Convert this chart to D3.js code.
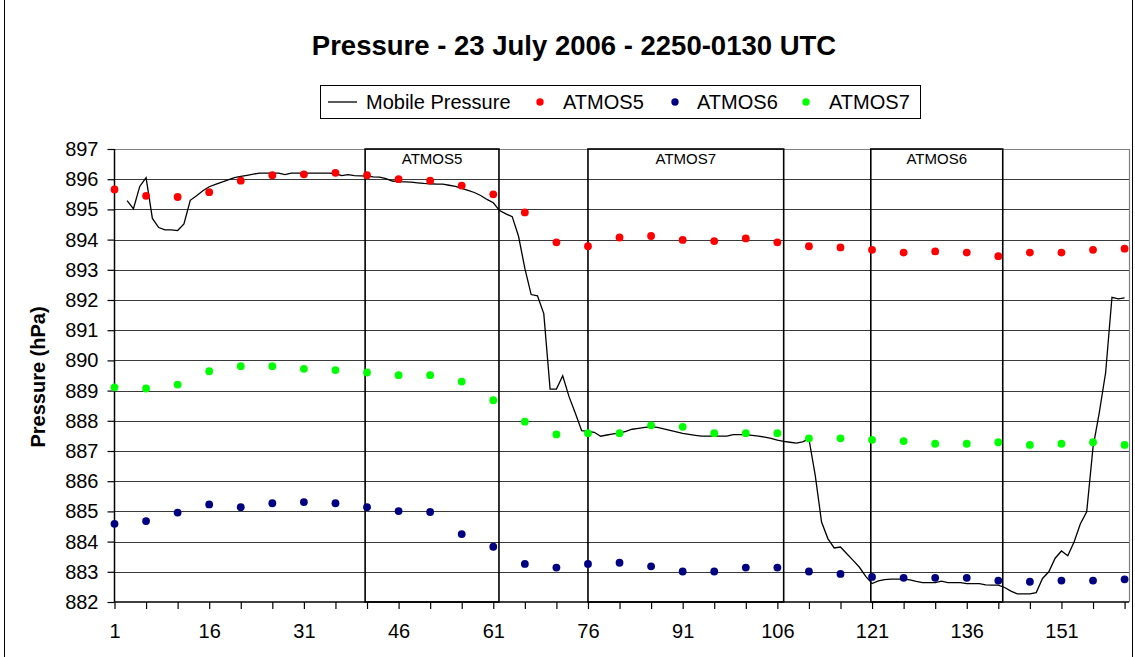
<!DOCTYPE html>
<html>
<head>
<meta charset="utf-8">
<script src="https://cdn.jsdelivr.net/npm/d3@7"></script>
<style>
  html, body { margin: 0; padding: 0; background: #fff; }
  svg { display: block; font-family: "Liberation Sans", Arial, sans-serif; }
</style>
</head>
<body>
<svg id="chart" width="1135" height="657"></svg>
<script>
// ---------- DATA ----------
const title = "Pressure - 23 July 2006 - 2250-0130 UTC";
const yTitle = "Pressure (hPa)";
const seriesNames = ["Mobile Pressure", "ATMOS5", "ATMOS6", "ATMOS7"];

// Station observations every 5 samples (sample numbers 1, 6, 11, ... 161)
const stationSamples = [1,6,11,16,21,26,31,36,41,46,51,56,61,66,71,76,81,86,91,96,101,106,111,116,121,126,131,136,141,146,151,156,161];
const atmos5 = [895.66,895.45,895.41,895.57,895.95,896.13,896.16,896.21,896.13,896.00,895.95,895.79,895.50,894.90,893.91,893.78,894.07,894.12,893.99,893.95,894.04,893.91,893.78,893.74,893.66,893.57,893.61,893.57,893.45,893.57,893.57,893.66,893.70];
const atmos6 = [884.59,884.68,884.96,885.23,885.14,885.27,885.31,885.27,885.14,885.01,884.98,884.25,883.83,883.26,883.14,883.26,883.30,883.18,883.01,883.01,883.14,883.14,883.01,882.93,882.83,882.80,882.80,882.80,882.71,882.67,882.71,882.71,882.75];
const atmos7 = [889.11,889.07,889.20,889.64,889.81,889.81,889.72,889.68,889.60,889.51,889.51,889.30,888.68,887.97,887.55,887.59,887.59,887.85,887.80,887.59,887.59,887.59,887.42,887.42,887.37,887.33,887.24,887.24,887.29,887.20,887.24,887.29,887.20];

// Mobile pressure, samples 3 .. 161
const mobileStart = 3;
const mobile = [
  895.29,895.02,895.76,896.05,894.70,894.40,894.32,894.32,894.30,894.52,
  895.30,895.45,895.62,895.75,895.83,895.90,895.98,896.05,896.09,896.13,
  896.17,896.20,896.20,896.20,896.20,896.15,896.20,896.20,896.20,896.20,
  896.20,896.20,896.20,896.18,896.12,896.15,896.12,896.11,896.10,896.08,
  896.07,896.02,895.94,895.92,895.91,895.90,895.88,895.86,895.85,895.84,
  895.84,895.80,895.76,895.70,895.63,895.56,895.46,895.33,895.22,894.96,
  894.85,894.76,894.11,893.05,892.18,892.14,891.55,889.05,889.05,889.49,
  888.80,888.25,887.67,887.65,887.62,887.49,887.53,887.57,887.59,887.65,
  887.72,887.75,887.78,887.80,887.78,887.73,887.68,887.63,887.58,887.55,
  887.52,887.49,887.49,887.49,887.49,887.49,887.54,887.54,887.54,887.52,
  887.49,887.46,887.42,887.36,887.32,887.29,887.26,887.30,887.40,886.19,
  884.65,884.10,883.79,883.82,883.60,883.38,883.15,882.85,882.61,882.70,
  882.74,882.76,882.76,882.76,882.73,882.68,882.64,882.64,882.64,882.69,
  882.64,882.64,882.64,882.61,882.61,882.61,882.57,882.56,882.56,882.48,
  882.36,882.27,882.27,882.27,882.31,882.78,883.00,883.45,883.69,883.53,
  883.99,884.59,884.99,887.12,888.28,889.60,892.09,892.04,892.07
];

// Annotation boxes (sample ranges)
const boxLabels = ["ATMOS5", "ATMOS7", "ATMOS6"];
const boxStart = [40.7, 76.0, 120.8];
const boxEnd = [61.9, 107.0, 141.7];

const yTicks = d3.range(882, 898, 1);
const xTickSamples = d3.range(1, 162, 5);
const xLabelSamples = [1, 16, 31, 46, 61, 76, 91, 106, 121, 136, 151];

const colors = { "Mobile Pressure": "#000000", ATMOS5: "#FF0000", ATMOS6: "#000080", ATMOS7: "#00FF00" };

// ---------- LAYOUT ----------
const svg = d3.select("#chart");
const W = 1135, H = 657;
const plot = { left: 114.5, right: 1129, top: 149, bottom: 602 };
const x = d3.scaleLinear().domain([1, 161.7]).range([plot.left, plot.right]);
const y = d3.scaleLinear().domain([882, 897]).range([plot.bottom, plot.top]);
const FONT = '"Liberation Sans", Arial, sans-serif';

// chart area border
svg.append("rect").attr("x", 4.5).attr("y", -10).attr("width", 1128).attr("height", H + 20)
  .attr("fill", "none").attr("stroke", "#000").attr("stroke-width", 1);

// title
svg.append("text").attr("x", 574).attr("y", 55).attr("text-anchor", "middle")
  .attr("font-size", 27.5).attr("font-weight", "bold").attr("fill", "#000").text(title);

// legend
const lg = svg.append("g");
lg.append("rect").attr("x", 320.5).attr("y", 85.5).attr("width", 600).attr("height", 33)
  .attr("fill", "#fff").attr("stroke", "#000").attr("stroke-width", 1);
const legendItems = [
  { name: seriesNames[0], kind: "line", sx: 328, tx: 366 },
  { name: seriesNames[1], kind: "dot", sx: 540, tx: 563 },
  { name: seriesNames[2], kind: "dot", sx: 675, tx: 697 },
  { name: seriesNames[3], kind: "dot", sx: 806, tx: 829 }
];
legendItems.forEach(it => {
  if (it.kind === "line") {
    lg.append("line").attr("x1", it.sx).attr("x2", it.sx + 29).attr("y1", 102).attr("y2", 102)
      .attr("stroke", "#000").attr("stroke-width", 1.3);
  } else {
    lg.append("circle").attr("cx", it.sx).attr("cy", 102).attr("r", 3.7).attr("fill", colors[it.name]);
  }
  lg.append("text").attr("x", it.tx).attr("y", 109).attr("font-size", 20).attr("fill", "#000").text(it.name);
});

// gridlines
const grid = svg.append("g");
grid.selectAll("line").data(yTicks.filter(v => v > 882)).join("line")
  .attr("x1", plot.left).attr("x2", plot.right)
  .attr("y1", d => Math.round(y(d)) + 0.5).attr("y2", d => Math.round(y(d)) + 0.5)
  .attr("stroke", d => d === 897 ? "#808080" : "#3a3a3a").attr("stroke-width", 1);
// plot right border
svg.append("line").attr("x1", plot.right + 0.5).attr("x2", plot.right + 0.5)
  .attr("y1", plot.top).attr("y2", plot.bottom).attr("stroke", "#808080").attr("stroke-width", 1.2);

// annotation boxes
const boxes = svg.append("g");
boxLabels.forEach((lab, i) => {
  const x0 = x(boxStart[i]), x1 = x(boxEnd[i]);
  boxes.append("rect").attr("x", x0).attr("y", plot.top).attr("width", x1 - x0).attr("height", plot.bottom - plot.top)
    .attr("fill", "none").attr("stroke", "#000").attr("stroke-width", 1.6);
  boxes.append("text").attr("x", (x0 + x1) / 2).attr("y", 164).attr("text-anchor", "middle")
    .attr("font-size", 15).attr("fill", "#000").text(lab);
});

// axes
const yAxis = d3.axisLeft(y).tickValues(yTicks).tickSize(7).tickPadding(9).tickFormat(d3.format("d"));
const gy = svg.append("g").attr("transform", `translate(${plot.left},0)`).call(yAxis);
const xAxis = d3.axisBottom(x).tickValues(xTickSamples).tickSize(7).tickPadding(15)
  .tickFormat(d => xLabelSamples.includes(d) ? String(d) : "");
const gx = svg.append("g").attr("transform", `translate(0,${plot.bottom})`).call(xAxis);
[gx, gy].forEach(g => {
  g.select(".domain").attr("stroke", "#000").attr("stroke-width", 1.5);
  g.selectAll(".tick line").attr("stroke", "#000").attr("stroke-width", 1.2);
  g.selectAll(".tick text").attr("font-size", 20).attr("font-family", FONT).attr("fill", "#000");
});
gx.select(".domain").attr("d", `M${plot.left},0H${plot.right}`);
gy.select(".domain").attr("d", `M0,${plot.top}V${plot.bottom}`);

// y title
svg.append("text").attr("transform", `translate(45,377) rotate(-90)`).attr("text-anchor", "middle")
  .attr("font-size", 20).attr("font-weight", "bold").attr("fill", "#000").text(yTitle);

// mobile pressure line
const mobileData = mobile.map((v, i) => ({ s: mobileStart + i, v }));
svg.append("path").datum(mobileData)
  .attr("d", d3.line().x(d => x(d.s)).y(d => y(d.v)))
  .attr("fill", "none").attr("stroke", "#000").attr("stroke-width", 1.3).attr("stroke-linejoin", "miter");

// station dots
[["ATMOS5", atmos5], ["ATMOS6", atmos6], ["ATMOS7", atmos7]].forEach(([name, vals]) => {
  svg.append("g").selectAll("circle").data(vals).join("circle")
    .attr("cx", (d, i) => x(stationSamples[i])).attr("cy", d => y(d))
    .attr("r", 3.9).attr("fill", colors[name]);
});
</script>
</body>
</html>
